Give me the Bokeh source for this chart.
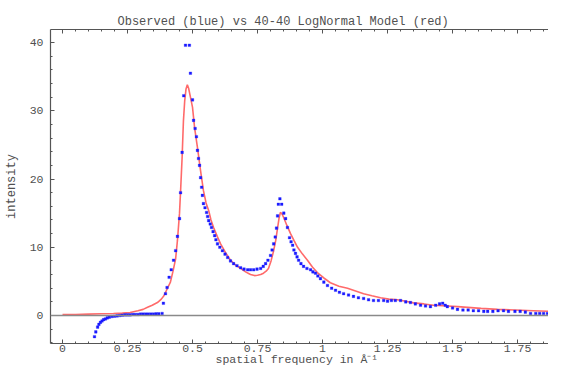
from bokeh.plotting import figure
from bokeh.models import (Range1d, LinearAxis, SingleIntervalTicker, CustomJSTickFormatter, Span, Title)
from bokeh.embed import file_html
from bokeh.resources import INLINE

# ---- data ----
blue_x = [0.123, 0.128, 0.135, 0.140, 0.146, 0.152, 0.158, 0.165, 0.172, 0.180,
          0.190, 0.200, 0.210, 0.220, 0.230, 0.240, 0.250, 0.260, 0.270, 0.280,
          0.290, 0.300, 0.310, 0.320, 0.330, 0.340, 0.350, 0.360, 0.370, 0.383,
          0.388, 0.396, 0.402, 0.410, 0.418, 0.427, 0.435, 0.442, 0.450, 0.454,
          0.460, 0.466, 0.473, 0.481, 0.488, 0.492, 0.500, 0.504, 0.510, 0.515,
          0.519, 0.523, 0.527, 0.531, 0.535, 0.538, 0.542, 0.548, 0.554, 0.558,
          0.562, 0.568, 0.573, 0.579, 0.585, 0.590, 0.596, 0.605, 0.615, 0.625,
          0.635, 0.646, 0.658, 0.671, 0.685, 0.698, 0.712, 0.723, 0.735, 0.748,
          0.762, 0.772, 0.781, 0.790, 0.800, 0.806, 0.812, 0.818, 0.823, 0.827,
          0.830, 0.836, 0.843, 0.851, 0.858, 0.865, 0.873, 0.879, 0.885, 0.890,
          0.896, 0.902, 0.908, 0.917, 0.927, 0.940, 0.954, 0.963, 0.973, 0.982,
          0.992, 1.005, 1.019, 1.035, 1.050, 1.065, 1.081, 1.100, 1.119, 1.138,
          1.158, 1.177, 1.196, 1.215, 1.235, 1.250, 1.265, 1.280, 1.300, 1.320,
          1.338, 1.357, 1.377, 1.396, 1.415, 1.435, 1.450, 1.462, 1.472, 1.480,
          1.500, 1.519, 1.540, 1.560, 1.580, 1.600, 1.620, 1.635, 1.655, 1.675,
          1.696, 1.715, 1.740, 1.760, 1.780, 1.800, 1.820, 1.835, 1.850, 1.865,
          1.880, 1.896]
blue_y = [-3.1, -2.4, -1.7, -1.3, -1.0, -0.8, -0.6, -0.5, -0.35, -0.25,
          -0.15, -0.1, -0.05, 0.0, 0.05, 0.1, 0.1, 0.1, 0.15, 0.15,
          0.15, 0.2, 0.2, 0.2, 0.2, 0.2, 0.2, 0.25, 0.25, 0.3,
          1.8, 3.2, 4.1, 5.6, 6.7, 8.1, 9.5, 11.6, 14.2, 18.0,
          23.9, 32.2, 39.6, 42.5, 39.6, 35.5, 31.6, 28.6, 27.4, 26.2,
          24.2, 23.0, 22.0, 20.2, 18.8, 17.6, 16.4, 15.8, 15.1, 14.5,
          13.9, 13.4, 12.9, 12.3, 11.7, 11.1, 10.5, 10.0, 9.5, 9.0,
          8.5, 8.0, 7.6, 7.3, 7.0, 6.8, 6.7, 6.7, 6.7, 6.8,
          6.9, 7.2, 7.6, 8.1, 8.8, 9.6, 10.5, 11.5, 12.8, 14.6,
          16.3, 17.1, 16.3, 15.0, 14.2, 12.9, 11.4, 10.8, 10.3, 9.6,
          9.1, 8.6, 8.1, 7.6, 7.2, 6.9, 6.7, 6.4, 6.2, 5.8,
          5.4, 4.9, 4.4, 4.0, 3.7, 3.4, 3.2, 3.0, 2.8, 2.6,
          2.5, 2.3, 2.2, 2.2, 2.2, 2.1, 2.2, 2.2, 2.2, 2.0,
          1.9, 1.7, 1.5, 1.4, 1.3, 1.5, 1.7, 1.8, 1.5, 1.3,
          1.1, 0.9, 0.8, 0.8, 0.7, 0.7, 0.6, 0.6, 0.6, 0.7,
          0.7, 0.6, 0.6, 0.6, 0.5, 0.3, 0.3, 0.3, 0.3, 0.3,
          0.3, 0.3]

red_x = [0.0, 0.05, 0.10, 0.15, 0.196, 0.23, 0.26, 0.29, 0.31, 0.327,
         0.345, 0.365, 0.38, 0.39, 0.40, 0.415, 0.425, 0.435, 0.442, 0.450,
         0.455, 0.460, 0.465, 0.470, 0.475, 0.480, 0.485, 0.492, 0.500, 0.508,
         0.519, 0.531, 0.542, 0.552, 0.562, 0.571, 0.581, 0.595, 0.608, 0.627,
         0.646, 0.665, 0.685, 0.704, 0.723, 0.738, 0.750, 0.762, 0.773, 0.783,
         0.792, 0.802, 0.812, 0.820, 0.827, 0.833, 0.838, 0.844, 0.850, 0.863,
         0.877, 0.890, 0.904, 0.923, 0.942, 0.961, 0.980, 1.005, 1.030, 1.063,
         1.096, 1.127, 1.158, 1.190, 1.223, 1.255, 1.288, 1.320, 1.350, 1.390,
         1.427, 1.480, 1.520, 1.558, 1.610, 1.673, 1.740, 1.810, 1.880]
red_y = [0.15, 0.15, 0.2, 0.25, 0.3, 0.35, 0.45, 0.7, 0.9, 1.2,
         1.5, 1.9, 2.4, 2.9, 3.7, 4.9, 6.5, 8.3, 11.0, 15.0,
         19.0, 23.2, 28.5, 31.5, 33.2, 33.8, 33.3, 32.0, 30.5, 27.5,
         24.6, 21.2, 18.3, 16.5, 15.4, 14.0, 12.9, 11.6, 10.5, 9.2,
         8.1, 7.4, 6.9, 6.4, 6.0, 5.85, 5.9, 6.0, 6.2, 6.5,
         6.9, 8.0, 9.5, 11.0, 12.8, 14.3, 15.1, 14.9, 14.4, 13.2,
         12.0, 11.0, 10.0, 9.0, 8.1, 7.1, 6.3, 5.5, 4.8, 4.3,
         4.0, 3.6, 3.2, 2.9, 2.6, 2.4, 2.3, 2.1, 1.85, 1.7,
         1.5, 1.4, 1.3, 1.2, 1.05, 0.9, 0.8, 0.7, 0.6]

title_text = "Observed (blue) vs 40-40 LogNormal Model (red)"
x_label = "spatial frequency in Å⁻¹"
y_label = "intensity"

FONT = "Liberation Mono"
TXT = "#505050"
AX = "#555555"

p = figure(width=548, height=367, output_backend="svg", toolbar_location=None,
           x_range=Range1d(-0.0462, 1.869), y_range=Range1d(-4.1, 41.91),
           min_border_left=50, min_border_top=29, min_border_bottom=24, min_border_right=0,
           x_axis_location=None, y_axis_location=None)
p.outline_line_color = None
p.xgrid.visible = False
p.ygrid.visible = False
p.background_fill_color = "white"
p.border_fill_color = "white"

p.title.text = title_text
p.title.align = "left"
p.title.offset = 67
p.title.standoff = 2
p.title.text_font = FONT
p.title.text_font_size = "12px"
p.title.text_font_style = "normal"
p.title.text_color = TXT
p.title.text_line_height = 1.0


def style_axis(ax):
    ax.axis_line_color = AX
    ax.axis_line_width = 1.2
    ax.major_tick_line_color = AX
    ax.minor_tick_line_color = AX
    ax.major_tick_in = 4
    ax.major_tick_out = 0
    ax.minor_tick_in = 2
    ax.minor_tick_out = 0
    ax.major_label_text_font = FONT
    ax.major_label_text_color = TXT
    ax.major_label_text_font_size = "11.5px"
    ax.major_label_text_line_height = 1.0
    ax.axis_label_text_font = FONT
    ax.axis_label_text_font_size = "12px"
    ax.axis_label_text_font_style = "normal"
    ax.axis_label_text_color = TXT


fmt = CustomJSTickFormatter(code="return tick.toString();")
blank = CustomJSTickFormatter(code="return '';")

xb = LinearAxis(ticker=SingleIntervalTicker(interval=0.25, num_minor_ticks=5), formatter=fmt)
style_axis(xb)
xb.major_label_standoff = 1
p.add_layout(xb, "below")

p.add_layout(Title(text=x_label, align="left", offset=165, standoff=-8, text_font=FONT,
                   text_font_size="11.5px", text_font_style="normal", text_color=TXT,
                   text_line_height=1.0), "below")

xt = LinearAxis(ticker=SingleIntervalTicker(interval=0.25, num_minor_ticks=5), formatter=blank)
style_axis(xt)
xt.major_label_standoff = 0
p.add_layout(xt, "above")

yl = LinearAxis(ticker=SingleIntervalTicker(interval=10, num_minor_ticks=5), formatter=fmt,
                axis_label=y_label)
style_axis(yl)
yl.major_label_standoff = 7
yl.axis_label_standoff = 8
p.add_layout(yl, "left")

p.add_layout(Span(location=0, dimension="width", line_color="#8a8a8a", line_width=1.5))

p.line(red_x, red_y, line_color="#ff5a5a", line_width=1.6, line_alpha=0.9)
p.scatter(blue_x, blue_y, marker="square", size=2.6, fill_color="#1a1aff",
          line_color="#1a1aff", line_width=0.3)

open("out.html", "w").write(file_html(p, INLINE))
